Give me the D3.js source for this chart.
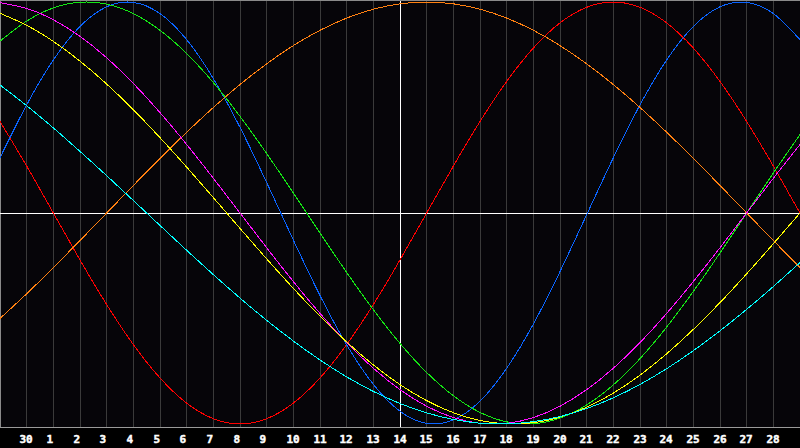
<!DOCTYPE html>
<html>
<head>
<meta charset="utf-8">
<script src="https://cdn.jsdelivr.net/npm/d3@7"></script>
<style>
  html, body { margin: 0; padding: 0; background: #000; }
  svg { display: block; }
</style>
</head>
<body>
<div id="chart"></div>
<script>
// Day labels under gridlines 1..29
const tickLabels = ["30","1","2","3","4","5","6","7","8","9","10","11","12","13","14","15","16","17","18","19","20","21","22","23","24","25","26","27","28"];

// Daily values (day 0 .. day 30 from the left edge)
const physical = [0.2618,0.5125,0.7253,0.8841,0.9774,0.9982,0.9450,0.8217,0.6372,0.4059,0.1443,-0.1281,-0.3909,-0.6248,-0.8122,-0.9395,-0.9971,-0.9807,-0.8916,-0.7360,-0.5265,-0.2777,-0.0082,0.2618,0.5125,0.7253,0.8841,0.9774,0.9982,0.9450,0.8217];
const emotional = [0.4339,0.2225,0,-0.2225,-0.4339,-0.6235,-0.7818,-0.9010,-0.9749,-1,-0.9749,-0.9010,-0.7818,-0.6235,-0.4339,-0.2225,0,0.2225,0.4339,0.6235,0.7818,0.9010,0.9749,1,0.9749,0.9010,0.7818,0.6235,0.4339,0.2225,0];
const intellectual = [0.8146,0.9096,0.9718,0.9989,0.9898,0.9450,0.8660,0.7557,0.6182,0.4582,0.2817,0.0950,-0.0950,-0.2817,-0.4582,-0.6182,-0.7557,-0.8660,-0.9450,-0.9898,-0.9989,-0.9718,-0.9096,-0.8146,-0.6901,-0.5406,-0.3717,-0.1893,0,0.1893,0.3717];
const intuitive = [0.9966,0.9694,0.9158,0.8372,0.7357,0.6142,0.4759,0.3247,0.1646,0,-0.1646,-0.3247,-0.4759,-0.6142,-0.7357,-0.8372,-0.9158,-0.9694,-0.9966,-0.9966,-0.9694,-0.9158,-0.8372,-0.7357,-0.6142,-0.4759,-0.3247,-0.1646,0,0.1646,0.3247];
const aesthetic = [0.9464,0.8893,0.8133,0.7198,0.6111,0.4894,0.3572,0.2174,0.0730,-0.0730,-0.2174,-0.3572,-0.4894,-0.6111,-0.7198,-0.8133,-0.8893,-0.9464,-0.9834,-0.9993,-0.9940,-0.9675,-0.9204,-0.8536,-0.7684,-0.6670,-0.5516,-0.4247,-0.2881,-0.1456,0];
const awareness = [-0.5,-0.3827,-0.2588,-0.1305,0,0.1305,0.2588,0.3827,0.5,0.6088,0.7071,0.7934,0.8660,0.9239,0.9659,0.9914,1,0.9914,0.9659,0.9239,0.8660,0.7934,0.7071,0.6088,0.5,0.3827,0.2588,0.1305,0,-0.1305,-0.2588];
const spiritual = [0.6068,0.5086,0.4032,0.2920,0.1769,0.0593,-0.0592,-0.1769,-0.2920,-0.4032,-0.5086,-0.6068,-0.6966,-0.7767,-0.8457,-0.9028,-0.9473,-0.9785,-0.9961,-0.9996,-0.9890,-0.9646,-0.9267,-0.8758,-0.8126,-0.7378,-0.6526,-0.5585,-0.4567,-0.3483,-0.2348];

const seriesNames = ["emotional","physical","intellectual","awareness","intuitive","aesthetic","spiritual"];
const seriesValues = [emotional, physical, intellectual, awareness, intuitive, aesthetic, spiritual];
const seriesColors = ["#ff0000","#0a64ff","#14e614","#ff8010","#ff10ff","#ffff00","#00ffff"];

const W = 800, H = 448, plotH = 427;
const svg = d3.select("#chart").append("svg").attr("width", W).attr("height", H);
svg.append("rect").attr("width", W).attr("height", H).attr("fill", "#000");
svg.append("rect").attr("width", W).attr("height", plotH).attr("fill", "#060509");

const nDays = emotional.length - 1;
const x = d3.scaleLinear().domain([0, nDays]).range([0, W]);
const y = d3.scaleLinear().domain([-1, 1]).range([424, 2]);

const snap = v => Math.floor(v) + 0.5;

// gridlines + labels via axis
const tickDays = d3.range(1, nDays);
const axis = d3.axisBottom(x)
  .tickValues(tickDays)
  .tickFormat((d, i) => tickLabels[i])
  .tickSizeInner(-plotH)
  .tickSizeOuter(0)
  .tickPadding(8);
const gAxis = svg.append("g").attr("transform", `translate(0,${plotH})`).call(axis);
gAxis.select(".domain").remove();
gAxis.selectAll(".tick").attr("transform", d => `translate(${snap(x(d))},0)`);
gAxis.selectAll(".tick line").attr("stroke", "#3a3a3a").attr("shape-rendering", "crispEdges");
gAxis.selectAll(".tick text")
  .attr("fill", "#ffffff")
  .attr("stroke", "#ffffff")
  .attr("stroke-width", 0.45)
  .attr("text-anchor", "start")
  .attr("x", -7)
  .attr("font-family", "'DejaVu Sans Mono', monospace")
  .attr("font-weight", "bold")
  .attr("font-size", 11);

// borders
svg.append("line").attr("x1", 0).attr("x2", W).attr("y1", 0.5).attr("y2", 0.5).attr("stroke", "#8a8a8a");
svg.append("line").attr("x1", 0.5).attr("x2", 0.5).attr("y1", 0).attr("y2", plotH).attr("stroke", "#8a8a8a");
svg.append("line").attr("x1", 0).attr("x2", W).attr("y1", plotH + 0.5).attr("y2", plotH + 0.5).attr("stroke", "#9a9a9a");

// centre lines
svg.append("line").attr("x1", 0).attr("x2", W).attr("y1", snap(y(0))).attr("y2", snap(y(0)))
  .attr("stroke", "#ffffff").attr("shape-rendering", "crispEdges");
svg.append("line").attr("x1", snap(x(15))).attr("x2", snap(x(15))).attr("y1", 1).attr("y2", plotH)
  .attr("stroke", "#ffffff").attr("shape-rendering", "crispEdges");

// curves
const line = d3.line()
  .x((d, i) => x(i))
  .y(d => y(d))
  .curve(d3.curveNatural);

svg.append("g").selectAll("path")
  .data(seriesValues)
  .join("path")
  .attr("class", (d, i) => seriesNames[i])
  .attr("d", line)
  .attr("fill", "none")
  .attr("stroke", (d, i) => seriesColors[i])
  .attr("stroke-width", 1)
  .attr("shape-rendering", "crispEdges");
</script>
</body>
</html>
